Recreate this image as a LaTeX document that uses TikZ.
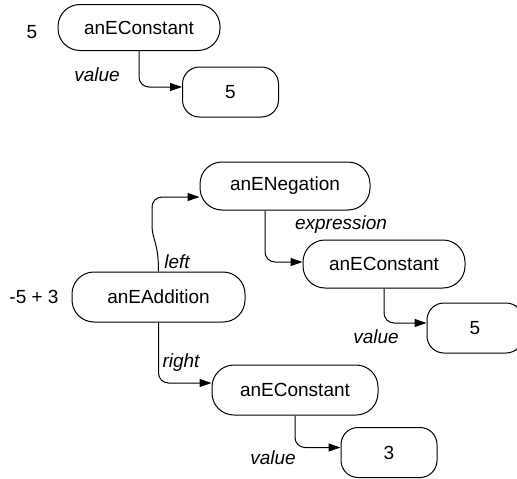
\documentclass[tikz,border=0pt]{standalone}
\usepackage{fontspec}
\setmainfont{Liberation Sans}
\usetikzlibrary{arrows.meta}
\begin{document}
\begin{tikzpicture}[x=1pt,y=-1pt,
  txt/.style={font=\fontsize{19}{22}\selectfont},
  obj/.style={txt, draw, line width=1pt, rounded corners=22pt, minimum width=#1, minimum height=48pt, inner sep=0pt},
  val/.style={txt, draw, line width=1pt, rounded corners=17pt, minimum width=96pt, minimum height=50pt, inner sep=0pt},
  lbl/.style={font=\fontsize{19}{22}\selectfont\itshape, inner sep=0pt},
  plain/.style={txt, inner sep=0pt},
  arr/.style={line width=1pt, rounded corners=10pt, -{Triangle[length=12pt,width=8pt]}}]
\useasboundingbox (0,0) rectangle (517,479);
\clip (0,0) rectangle (517,479);
% nodes
\node[obj=162pt, minimum height=46pt] (c1) at (139,27.5) {anEConstant};
\node[val] (v1) at (230.5,92) {5};
\node[obj=170pt] (neg) at (285,186) {anENegation};
\node[obj=173pt, minimum height=50pt] (add) at (158.5,297) {anEAddition};
\node[obj=162pt] (c2) at (384,264) {anEConstant};
\node[val] (v2) at (475,328) {5};
\node[obj=166pt, minimum height=50pt] (c3) at (295,390) {anEConstant};
\node[val] (v3) at (389,452.5) {3};
% side texts
\node[plain] (t1) at (32,32) {5};
\node[plain] (t2) at (34,297) {-5 + 3};
% connectors
\draw[arr] (c1.south) |- ([yshift=5pt]v1.west);
\draw[arr] (add.north) .. controls +(0,-30) and +(0,25) .. (152,215) |- ([yshift=-11pt]neg.west);
\draw[arr] (neg.south -| 265,0) |- ([yshift=2pt]c2.west);
\draw[arr] (c2.south) |- ([yshift=5pt]v2.west);
\draw[arr] (add.south) |- ([yshift=7pt]c3.west);
\draw[arr] (c3.south) |- ([yshift=5pt]v3.west);
% labels
\node[lbl] (l1) at (97,75) {value};
\node[lbl] (l2) at (177,262) {left};
\node[lbl] (l3) at (341,225) {expression};
\node[lbl] (l4) at (376,337) {value};
\node[lbl] (l5) at (181,363) {right};
\node[lbl] (l6) at (273,458) {value};
\end{tikzpicture}
\end{document}
